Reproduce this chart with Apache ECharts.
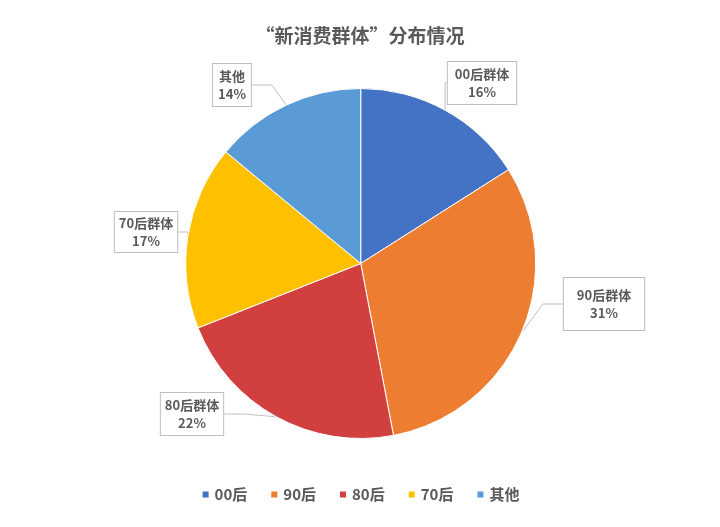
<!DOCTYPE html>
<html>
<head>
<meta charset="utf-8">
<script src="https://cdn.jsdelivr.net/npm/echarts@6/dist/echarts.min.js"></script>
<style>html,body{margin:0;padding:0;background:#fff}#c{width:720px;height:527px}</style>
</head>
<body>
<div id="c"></div>
<script>
const categories = ['00后', '90后', '80后', '70后', '其他'];
const labelNames = ['00后群体', '90后群体', '80后群体', '70后群体', '其他'];
const values = [16, 31, 22, 17, 14];
const colors = ['#4472C4', '#ED7D31', '#D13F3F', '#FFC000', '#5B9BD5'];
const labelPos = [[482, 83], [604, 304], [192, 414], [146, 232], [232, 85]];
const labelPad = [[3, 7], [8, 13], [3, 4], [2, 4], [3, 5]];

const chart = echarts.init(document.getElementById('c'));
chart.setOption({
  animation: false,
  title: {
    text: '“新消费群体”分布情况',
    left: 'center',
    top: 21,
    textStyle: { fontSize: 19, fontWeight: 'bold', color: '#595959', fontFamily: 'Noto Sans CJK SC' }
  },
  legend: {
    bottom: 20,
    left: 'center',
    icon: 'rect',
    itemWidth: 8,
    itemHeight: 8,
    itemGap: 22,
    data: categories,
    textStyle: { fontSize: 15, fontWeight: 'bold', color: '#595959', fontFamily: 'Noto Sans CJK SC' }
  },
  series: [{
    type: 'pie',
    center: ['50.1%', '50%'],
    radius: 175,
    startAngle: 90,
    clockwise: true,
    itemStyle: { borderColor: '#fff', borderWidth: 1 },
    data: categories.map((c, i) => ({
      name: c, value: values[i], itemStyle: { color: colors[i] },
      label: { padding: labelPad[i] }
    })),
    label: {
      show: true,
      position: 'outside',
      formatter: p => labelNames[p.dataIndex] + '\n' + p.value + '%',
      fontSize: 13,
      fontWeight: 'bold',
      color: '#595959',
      fontFamily: 'Noto Sans CJK SC',
      lineHeight: 18,
      align: 'center',
      backgroundColor: '#fff',
      borderColor: '#BFBFBF',
      borderWidth: 1
    },
    labelLine: { show: true, length: 20, length2: 20, lineStyle: { color: '#BFBFBF', width: 1 } },
    labelLayout: p => ({
      x: labelPos[p.dataIndex][0],
      y: labelPos[p.dataIndex][1],
      align: 'center',
      verticalAlign: 'middle'
    })
  }]
});
</script>
</body>
</html>
